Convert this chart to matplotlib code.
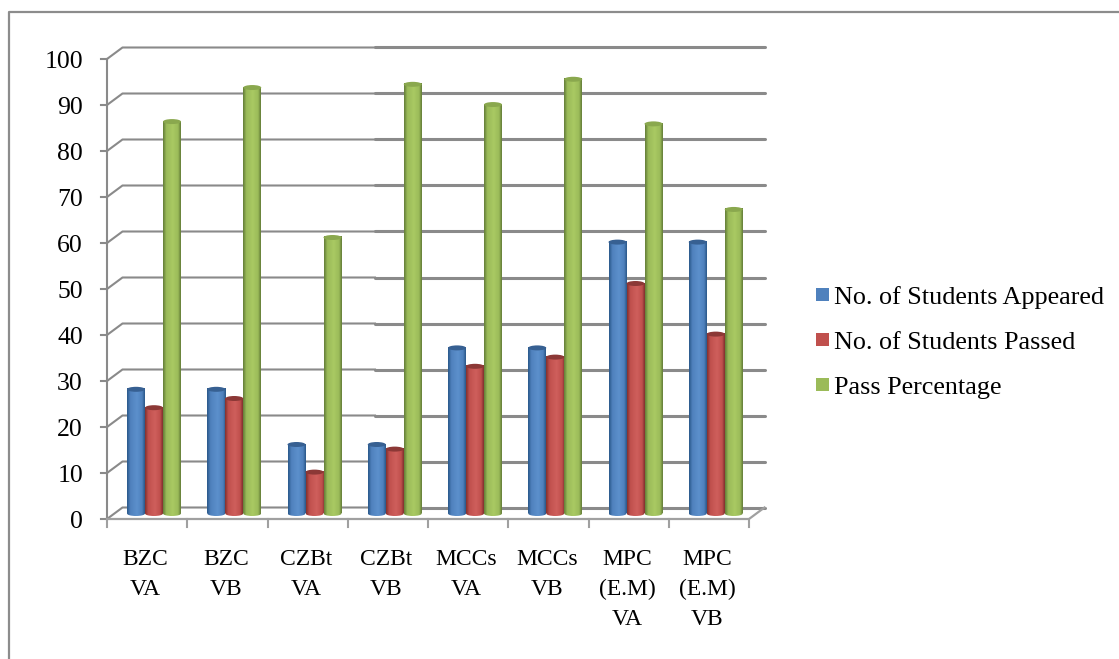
import numpy as np
import matplotlib
matplotlib.use('Agg')
import matplotlib.pyplot as plt
from matplotlib.lines import Line2D
from matplotlib.patches import Ellipse, Rectangle
from matplotlib.colors import LinearSegmentedColormap

categories = ['BZC\nVA', 'BZC\nVB', 'CZBt\nVA', 'CZBt\nVB', 'MCCs\nVA', 'MCCs\nVB',
              'MPC\n(E.M)\nVA', 'MPC\n(E.M)\nVB']
appeared = [27, 27, 15, 15, 36, 36, 59, 59]
passed = [23, 25, 9, 14, 32, 34, 50, 39]
percent = [85.2, 92.6, 60, 93.3, 88.9, 94.4, 84.7, 66.1]
series_names = ['No. of Students Appeared', 'No. of Students Passed', 'Pass Percentage']
yticks = list(range(0, 101, 10))

W, H = 1119, 659
plt.rcParams['font.family'] = ['Liberation Serif', 'DejaVu Serif']
fig = plt.figure(figsize=(W / 100, H / 100), dpi=100)

# frame: only left and top sides are in the picture
fig.add_artist(Line2D([9 / W, 9 / W, 1], [0, 1 - 12 / H, 1 - 12 / H], transform=fig.transFigure,
                      color='#8c8c8c', lw=1.6))

# front axis box in pixels
left, right, y0, y100 = 107, 749, 519, 59
ax = fig.add_axes([left / W, 1 - y0 / H, (right - left) / W, (y0 - y100) / H])
ax.set_xlim(0, 8)
ax.set_ylim(0, 100)
ax.patch.set_alpha(0)
for s in ax.spines.values():
    s.set_visible(False)
ax.tick_params(length=0)

px = 8 / (right - left)
py = 100 / (y0 - y100)
dx, dy = 15.5 * px, 11.5 * py
split = (375 - left) * px
gray = '#8a8a8a'

# walls of the 3d box, the lines get heavier right of the split
for v in yticks:
    ax.plot([0, dx, split], [v, v + dy, v + dy], color=gray, lw=1.5, clip_on=False, zorder=1)
    ax.plot([split, 8 + dx], [v + dy, v + dy], color=gray, lw=2.2, clip_on=False, zorder=1,
            solid_capstyle='round')
    ax.plot([-6 * px, 0], [v, v], color=gray, lw=1.5, clip_on=False, zorder=1)
ax.plot([0, 0], [0, 100], color=gray, lw=1.5, clip_on=False, zorder=1)
ax.plot([0, 8, 8 + dx], [0, 0, dy], color='#a0a0a0', lw=1.6, clip_on=False, zorder=1)
for i in range(9):
    ax.plot([i, i], [0, -8 * py], color='#a0a0a0', lw=1.5, clip_on=False, zorder=1)

ax.set_xticks([])
ax.set_yticks([])
for v in yticks:
    ax.text(-24 * px, v - 3 * py, str(v), ha='right', va='center', fontsize=18.5, color='black', clip_on=False)
for i, c in enumerate(categories):
    ax.text(i + 0.5 - 1.5 * px, -30 * py, c, ha='center', va='top', fontsize=17, linespacing=1.57, color='black')

styles = [('#2c5a8c', '#4f81bd', '#5c90cc', '#376092'),
          ('#853230', '#c0504d', '#cf5f5c', '#8c3836'),
          ('#66803a', '#9bbb59', '#a9c963', '#8aa84e')]
bar_w = 18 * px
ell_h = 5 * py
start = 20 * px
base = 5.5 * py
grad = np.linspace(0, 1, 32).reshape(1, -1)

for k, vals in enumerate([appeared, passed, percent]):
    dark, mid, light, top = styles[k]
    cmap = LinearSegmentedColormap.from_list('c', [(0, dark), (0.18, mid), (0.55, light), (0.85, mid), (1, dark)])
    z = 3 + k * 0.01
    for i, v in enumerate(vals):
        x0 = i + start + k * bar_w
        xc = x0 + bar_w / 2
        ax.imshow(grad, cmap=cmap, aspect='auto', extent=[x0, x0 + bar_w, base, base + v],
                  zorder=z, interpolation='bilinear')
        # rounded foot of the cylinder keeps the same shading as the body
        foot = ax.imshow(grad, cmap=cmap, aspect='auto', zorder=z, interpolation='bilinear',
                         extent=[x0, x0 + bar_w, base - ell_h / 2, base + ell_h / 2])
        foot_clip = Ellipse((xc, base), bar_w, ell_h, fc='none', ec='none')
        ax.add_patch(foot_clip)
        foot.set_clip_path(foot_clip)
        ax.add_patch(Ellipse((xc, base + v), bar_w, ell_h, fc=top, ec='none', zorder=z + 0.1))
ax.set_xlim(0, 8)
ax.set_ylim(0, 100)

# legend
legend_y = [295, 340, 385]
for n, yp, st in zip(series_names, legend_y, styles):
    fig.add_artist(Rectangle((816 / W, 1 - (yp + 6) / H), 13 / W, 13 / H, transform=fig.transFigure,
                             fc=st[1], ec='none'))
    fig.text(834 / W, 1 - (yp + 3) / H, n, ha='left', va='center', fontsize=18.8, color='black')

fig.savefig('out.png', dpi=100)
